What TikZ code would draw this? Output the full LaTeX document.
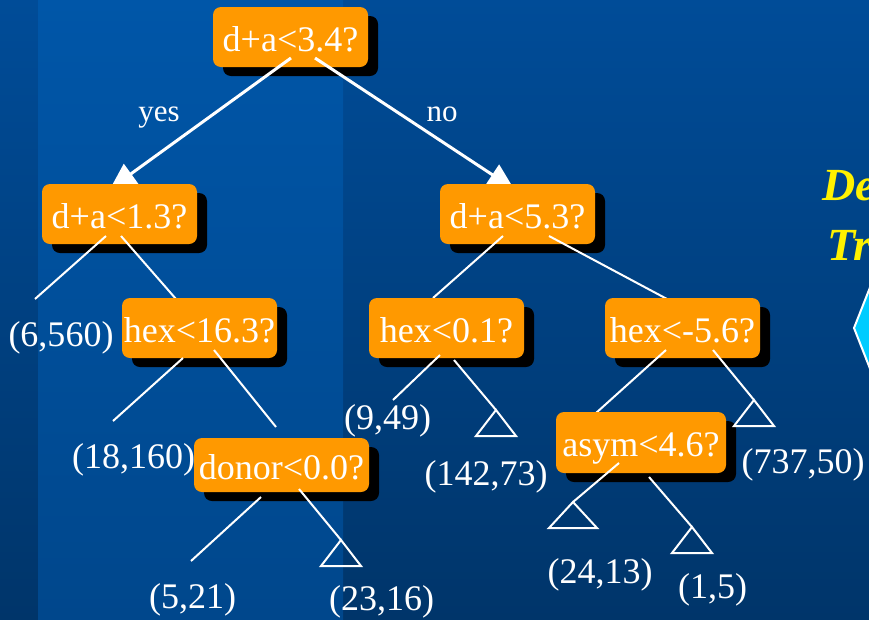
\documentclass[tikz,border=0pt]{standalone}
\usepackage{fontspec}
\setmainfont{Liberation Serif}
\usetikzlibrary{arrows.meta,shadows,calc}
\pgfdeclarelayer{bgl}
\pgfdeclarelayer{nA}\pgfdeclarelayer{eA}
\pgfdeclarelayer{nB}\pgfdeclarelayer{eB}
\pgfdeclarelayer{nC}\pgfdeclarelayer{eC}
\pgfdeclarelayer{nD}\pgfdeclarelayer{eD}
\pgfsetlayers{bgl,nA,eA,nB,eB,nC,eC,nD,eD,main}
\definecolor{boxor}{HTML}{FF9900}
\definecolor{bgtop}{HTML}{004C98}
\definecolor{bgbot}{HTML}{00356A}
\definecolor{bandtop}{HTML}{0056A8}
\definecolor{bandbot}{HTML}{00478C}
\definecolor{hexcyan}{HTML}{00CCFF}
\begin{document}
\begin{tikzpicture}[x=1pt,y=-1pt,
  qbox/.style={fill=boxor, rounded corners=8pt, inner sep=0pt, text=white,
    font=\fontsize{36}{40}\selectfont, text height=28pt, text depth=0pt,
    minimum height=60pt, minimum width=155pt,
    drop shadow={shadow xshift=10pt, shadow yshift=-9pt, opacity=1, fill=black}},
  lbl/.style={text=white, font=\fontsize{36}{40}\selectfont, inner sep=0pt},
  yn/.style={text=white, font=\fontsize{31}{34}\selectfont, inner sep=0pt, anchor=base},
  edgeln/.style={draw=white, line width=2pt},
  arrln/.style={draw=white, line width=3pt, -{Triangle[length=26pt,width=24pt]}},
  leaftri/.style={draw=white, line width=2pt, line join=miter}
]
\useasboundingbox (0,0) rectangle (869,619);
\begin{pgfonlayer}{bgl}
  \shade[top color=bgtop, bottom color=bgbot] (0,0) rectangle (869,619);
  \shade[top color=bandtop, bottom color=bandbot] (38,0) rectangle (343,619);
\end{pgfonlayer}

% nodes
\begin{pgfonlayer}{nA}
  \node[qbox] (root) at (290.5,37) {d+a<3.4?};
\end{pgfonlayer}
\begin{pgfonlayer}{nB}
  \node[qbox] (l) at (119.5,214) {d+a<1.3?};
  \node[qbox] (r) at (517.5,214) {d+a<5.3?};
\end{pgfonlayer}
\begin{pgfonlayer}{nC}
  \node[qbox] (hexA) at (199.5,328) {hex<16.3?};
  \node[qbox] (hexB) at (446.5,328) {hex<0.1?};
  \node[qbox] (hexC) at (682.5,328) {hex<-5.6?};
\end{pgfonlayer}
\begin{pgfonlayer}{nD}
  \node[qbox, minimum width=175pt, minimum height=54pt] (donor) at (281.5,465) {donor<0.0?};
  \node[qbox, minimum width=170pt, minimum height=61pt] (asym) at (641,442.5) {asym<4.6?};
\end{pgfonlayer}

% free ends and leaf triangles
\coordinate (c1) at (35,299);
\coordinate (c2) at (113,421);
\coordinate (c3) at (191,561);
\coordinate (c4) at (393,400);
\coordinate (t1) at (341,540);
\coordinate (t2) at (496,410);
\coordinate (t3) at (754,400);
\coordinate (t4) at (573,502);
\coordinate (t5) at (692,527);
\draw[leaftri] (t1) -- ++(-20,26) -- ++(40,0) -- cycle;
\draw[leaftri] (t2) -- ++(-20,26) -- ++(40,0) -- cycle;
\draw[leaftri] (t3) -- ++(-20,26) -- ++(40,0) -- cycle;
\draw[leaftri] (t4) -- ++(-24,26) -- ++(48,0) -- cycle;
\draw[leaftri] (t5) -- ++(-20,26) -- ++(40,0) -- cycle;

% connectors
\begin{pgfonlayer}{eA}
  \draw[arrln] ($(root)+(0.5,21)$) -- ($(l)+(-9.5,-25)$);
  \draw[arrln] ($(root)+(24.5,21)$) -- ($(r)+(-3.5,-25)$);
\end{pgfonlayer}
\begin{pgfonlayer}{eB}
  \draw[edgeln] ($(l)+(-13.5,22)$) -- (c1);
  \draw[edgeln] ($(l)+(1.5,22)$) -- ($(hexA)+(-23.5,-29)$);
  \draw[edgeln] ($(r)+(-14.5,22)$) -- ($(hexB)+(-13.5,-30)$);
  \draw[edgeln] ($(r)+(31.5,22)$) -- ($(hexC)+(-15.5,-29)$);
\end{pgfonlayer}
\begin{pgfonlayer}{eC}
  \draw[edgeln] ($(hexA)+(-16.5,30)$) -- (c2);
  \draw[edgeln] ($(hexA)+(14.5,22)$) -- ($(donor)+(-5.5,-38)$);
  \draw[edgeln] ($(hexB)+(-6.5,27)$) -- (c4);
  \draw[edgeln] ($(hexB)+(7.5,32)$) -- (t2);
  \draw[edgeln] ($(hexC)+(-16.5,22)$) -- ($(asym)+(-45,-29.5)$);
  \draw[edgeln] ($(hexC)+(30.5,22)$) -- (t3);
\end{pgfonlayer}
\begin{pgfonlayer}{eD}
  \draw[edgeln] ($(donor)+(-20.5,32)$) -- (c3);
  \draw[edgeln] ($(donor)+(17.5,24)$) -- (t1);
  \draw[edgeln] ($(asym)+(-22,20.5)$) -- (t4);
  \draw[edgeln] ($(asym)+(8,34.5)$) -- (t5);
\end{pgfonlayer}

% edge labels
\node[yn] (yes) at (159,121) {yes};
\node[yn] (no) at (442,121) {no};

% leaf labels
\node[lbl] (L1) at (61,338) {(6,560)};
\node[lbl] (L2) at (133.5,460) {(18,160)};
\node[lbl] (L3) at (192.5,600) {(5,21)};
\node[lbl] (L4) at (381.5,602) {(23,16)};
\node[lbl] (L5) at (387.5,420.5) {(9,49)};
\node[lbl] (L6) at (486,476.5) {(142,73)};
\node[lbl] (L7) at (803,464.5) {(737,50)};
\node[lbl] (L8) at (600,575) {(24,13)};
\node[lbl] (L9) at (712.5,590) {(1,5)};

% right edge, cut off by the frame
\begin{scope}
  \clip (0,0) rectangle (869,619);
  \node[anchor=base west, text=yellow, inner sep=0pt,
    font=\fontsize{46}{50}\selectfont\bfseries\itshape] (tde) at (822,200) {De};
  \node[anchor=base west, text=yellow, inner sep=0pt,
    font=\fontsize{46}{50}\selectfont\bfseries\itshape] (ttr) at (827,260) {Tr};
  \filldraw[fill=hexcyan, draw=white, line width=2pt]
    (854,328) -- (880,262) -- (900,262) -- (900,394) -- (880,394) -- cycle;
\end{scope}
\end{tikzpicture}
\end{document}
